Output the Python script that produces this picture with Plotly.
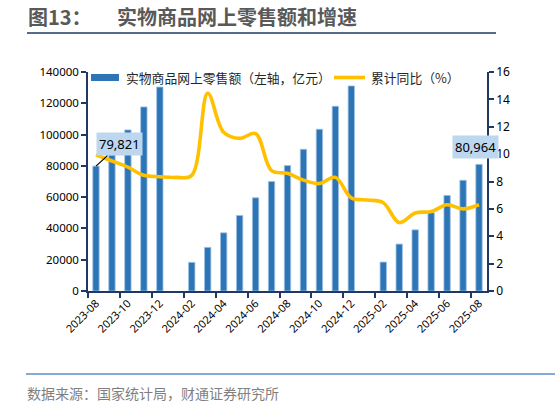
import plotly.graph_objects as go

# Data
months = ['2023-08', '2023-09', '2023-10', '2023-11', '2023-12', '2024-01', '2024-02',
          '2024-03', '2024-04', '2024-05', '2024-06', '2024-07', '2024-08', '2024-09',
          '2024-10', '2024-11', '2024-12', '2025-01', '2025-02', '2025-03', '2025-04',
          '2025-05', '2025-06', '2025-07', '2025-08']
sales = [79821, 87000, 103000, 117700, 130400, None, 18300, 27900, 37200, 48300, 59600,
         70000, 80200, 90600, 103400, 118100, 131100, None, 18500, 30000, 39100, 50000,
         61100, 70800, 80964]
growth = [9.95, 9.5, 9.05, 8.45, 8.35, 8.3, 8.45, 14.45, 11.6, 11.15, 11.5, 8.8, 8.6,
          8.1, 7.85, 8.3, 6.8, 6.65, 6.45, 5.0, 5.7, 5.8, 6.3, 6.0, 6.3]

bar_name = '实物商品网上零售额（左轴，亿元）'
line_name = '累计同比（%）'

W, H = 555, 406
L, R, T, B = 88, 487, 72, 291


def px(x):
    return (x - L) / (R - L)


def py(y):
    return (B - y) / (B - T)


navy = '#1f3864'
font_cn = 'Noto Sans CJK SC, Noto Sans, sans-serif'

fig = go.Figure()
fig.add_trace(go.Bar(x=months, y=sales, name=bar_name,
                     marker=dict(color='#2e75b6', line=dict(color='#9dc3e6', width=0.8)),
                     showlegend=False))
fig.add_trace(go.Scatter(x=months, y=growth, name=line_name, yaxis='y2', mode='lines',
                         line=dict(color='#ffc000', width=3.6, shape='spline', smoothing=1.0),
                         connectgaps=True, showlegend=False))

fig.update_layout(
    width=W, height=H,
    margin=dict(l=L, r=W - R, t=T, b=H - B),
    paper_bgcolor='white', plot_bgcolor='white',
    font=dict(family=font_cn, size=12, color='#000000'),
    bargap=0.6,
    xaxis=dict(type='category', tickmode='linear', tick0=0, dtick=2, tickson='boundaries',
               tickangle=-45, ticks='outside', ticklen=5, tickcolor=navy, tickwidth=1.5,
               showline=True, linecolor=navy, linewidth=1.5, showgrid=False,
               tickfont=dict(size=11, family='Noto Sans, sans-serif'),
               range=[-0.5, 24.5]),
    yaxis=dict(range=[0, 140000], dtick=20000, ticks='outside', ticklen=5, tickcolor=navy,
               tickwidth=1.5, showline=True, linecolor=navy, linewidth=1.5, showgrid=False,
               zeroline=False, tickformat='d',
               tickfont=dict(size=11.5, family='Noto Sans, sans-serif')),
    yaxis2=dict(range=[0, 16], dtick=2, overlaying='y', side='right', ticks='outside',
                ticklen=5, tickcolor=navy, tickwidth=1.5, showline=True, linecolor=navy,
                linewidth=1.5, showgrid=False, zeroline=False,
                tickfont=dict(size=12, family='Noto Sans, sans-serif')),
)

# manual legend
shapes = [
    dict(type='rect', xref='paper', yref='paper', x0=px(91), x1=px(119), y0=py(81), y1=py(74),
         fillcolor='#2e75b6', line=dict(width=0)),
    dict(type='line', xref='paper', yref='paper', x0=px(334), x1=px(365), y0=py(77.5), y1=py(77.5),
         line=dict(color='#ffc000', width=3.6)),
    # title underline
    dict(type='line', xref='paper', yref='paper', x0=px(27), x1=px(496), y0=py(33), y1=py(33),
         line=dict(color=navy, width=1.5)),
    # bottom separator
    dict(type='line', xref='paper', yref='paper', x0=px(26), x1=px(555), y0=py(374), y1=py(374),
         line=dict(color='#5b8fc9', width=1.5)),
]
fig.update_layout(shapes=shapes)

annotations = [
    dict(xref='paper', yref='paper', x=px(124), y=py(77.5), text=bar_name, showarrow=False,
         xanchor='left', yanchor='middle', font=dict(size=12.8, color='#262626')),
    dict(xref='paper', yref='paper', x=px(369), y=py(77.5), text=line_name, showarrow=False,
         xanchor='left', yanchor='middle', font=dict(size=12.8, color='#262626')),
    dict(xref='paper', yref='paper', x=px(26), y=py(17), text='<b>图13：</b>', showarrow=False,
         xanchor='left', yanchor='middle', font=dict(size=20, color='#595959')),
    dict(xref='paper', yref='paper', x=px(115), y=py(17), text='<b>实物商品网上零售额和增速</b>',
         showarrow=False, xanchor='left', yanchor='middle', font=dict(size=20, color='#595959')),
    dict(xref='paper', yref='paper', x=px(25), y=py(393), text='数据来源：国家统计局，财通证券研究所',
         showarrow=False, xanchor='left', yanchor='middle', font=dict(size=14, color='#7f7f7f')),
    # data labels
    dict(x=months[0], y=sales[0], xref='x', yref='y', text='79,821', showarrow=True,
         arrowhead=0, arrowwidth=1.2, arrowcolor='#000000', ax=24, ay=-22,
         bgcolor='#bdd7ee', borderpad=2, font=dict(size=13, color='#000000',
                                                   family='Noto Sans, sans-serif')),
    dict(x=months[-1], y=sales[-1], xref='x', yref='y', text='80,964', showarrow=False,
         yshift=17, xshift=-4,
         bgcolor='#bdd7ee', borderpad=2, font=dict(size=13, color='#000000',
                                                   family='Noto Sans, sans-serif')),
]
fig.update_layout(annotations=annotations)

# the page body has a default 8px margin; drop it so the figure fills the window
fig.write_html('out.html', config={'displayModeBar': False},
               post_script="document.body.style.margin='0';")
